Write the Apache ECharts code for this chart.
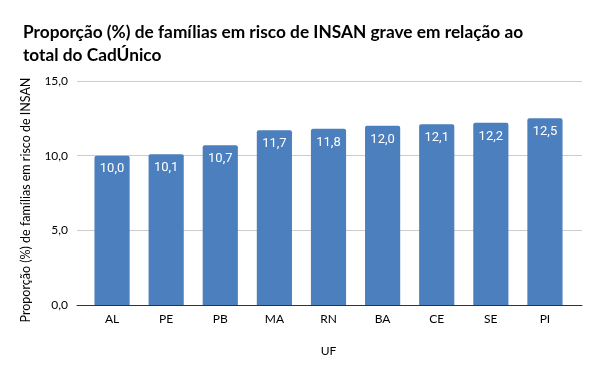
<!DOCTYPE html>
<html><head><meta charset="utf-8">
<script src="https://cdn.jsdelivr.net/npm/echarts@6/dist/echarts.min.js"></script>
<style>html,body{margin:0;padding:0;background:#fff}#c{width:600px;height:371px}</style>
</head><body><div id="c"></div>
<script>
const categories = ['AL','PE','PB','MA','RN','BA','CE','SE','PI'];
const values = [10.0, 10.1, 10.7, 11.7, 11.8, 12.0, 12.1, 12.2, 12.5];
const yTicks = [0, 5, 10, 15];
const titleText = 'Proporção (%) de famílias em risco de INSAN grave em relação ao\ntotal do CadÚnico';
const yName = 'Proporção (%) de famílias em risco de INSAN';
const xName = 'UF';
const fmt = v => v.toFixed(1).replace('.', ',');
const F = 'Lato';
const chart = echarts.init(document.getElementById('c'), null, {renderer:'canvas'});
chart.setOption({
  animation:false,
  title:{text:titleText,left:18,top:16,textStyle:{fontFamily:F,fontWeight:'bold',fontSize:17.3,color:'#000',lineHeight:23}},
  grid:[
    {left:77,right:18,top:81,bottom:66},
    {left:85,right:28,top:81,bottom:66}
  ],
  xAxis:[
    {gridIndex:0,type:'category',data:[''],axisLine:{lineStyle:{color:'#333',width:1}},axisTick:{show:false},axisLabel:{show:false}},
    {gridIndex:1,type:'category',data:categories,name:xName,nameLocation:'middle',nameGap:40,
      nameTextStyle:{fontFamily:F,fontSize:12,color:'#000'},
      axisLine:{show:false},axisTick:{show:false},
      axisLabel:{fontFamily:F,fontSize:12,color:'#000',margin:8}}
  ],
  yAxis:[
    {gridIndex:0,type:'value',min:yTicks[0],max:yTicks[yTicks.length-1],interval:5,
      name:yName,nameLocation:'middle',nameGap:45,
      nameTextStyle:{fontFamily:F,fontSize:12.5,color:'#000',padding:[0,14,0,0]},
      axisLine:{show:false},axisTick:{show:false},
      axisLabel:{formatter:fmt,fontFamily:F,fontSize:12,color:'#000',margin:9},
      splitLine:{lineStyle:{color:'#cccccc'}}},
    {gridIndex:1,type:'value',min:yTicks[0],max:yTicks[yTicks.length-1],interval:5,
      show:false,splitLine:{show:false}}
  ],
  series:[{type:'bar',xAxisIndex:1,yAxisIndex:1,data:values,barWidth:'65%',
    itemStyle:{color:'#4b7fbd',borderRadius:[2,2,0,0]},
    label:{show:true,position:'insideTop',distance:7,formatter:p=>fmt(p.value),color:'#fff',fontFamily:'Roboto',fontSize:13}}]
});
</script></body></html>
